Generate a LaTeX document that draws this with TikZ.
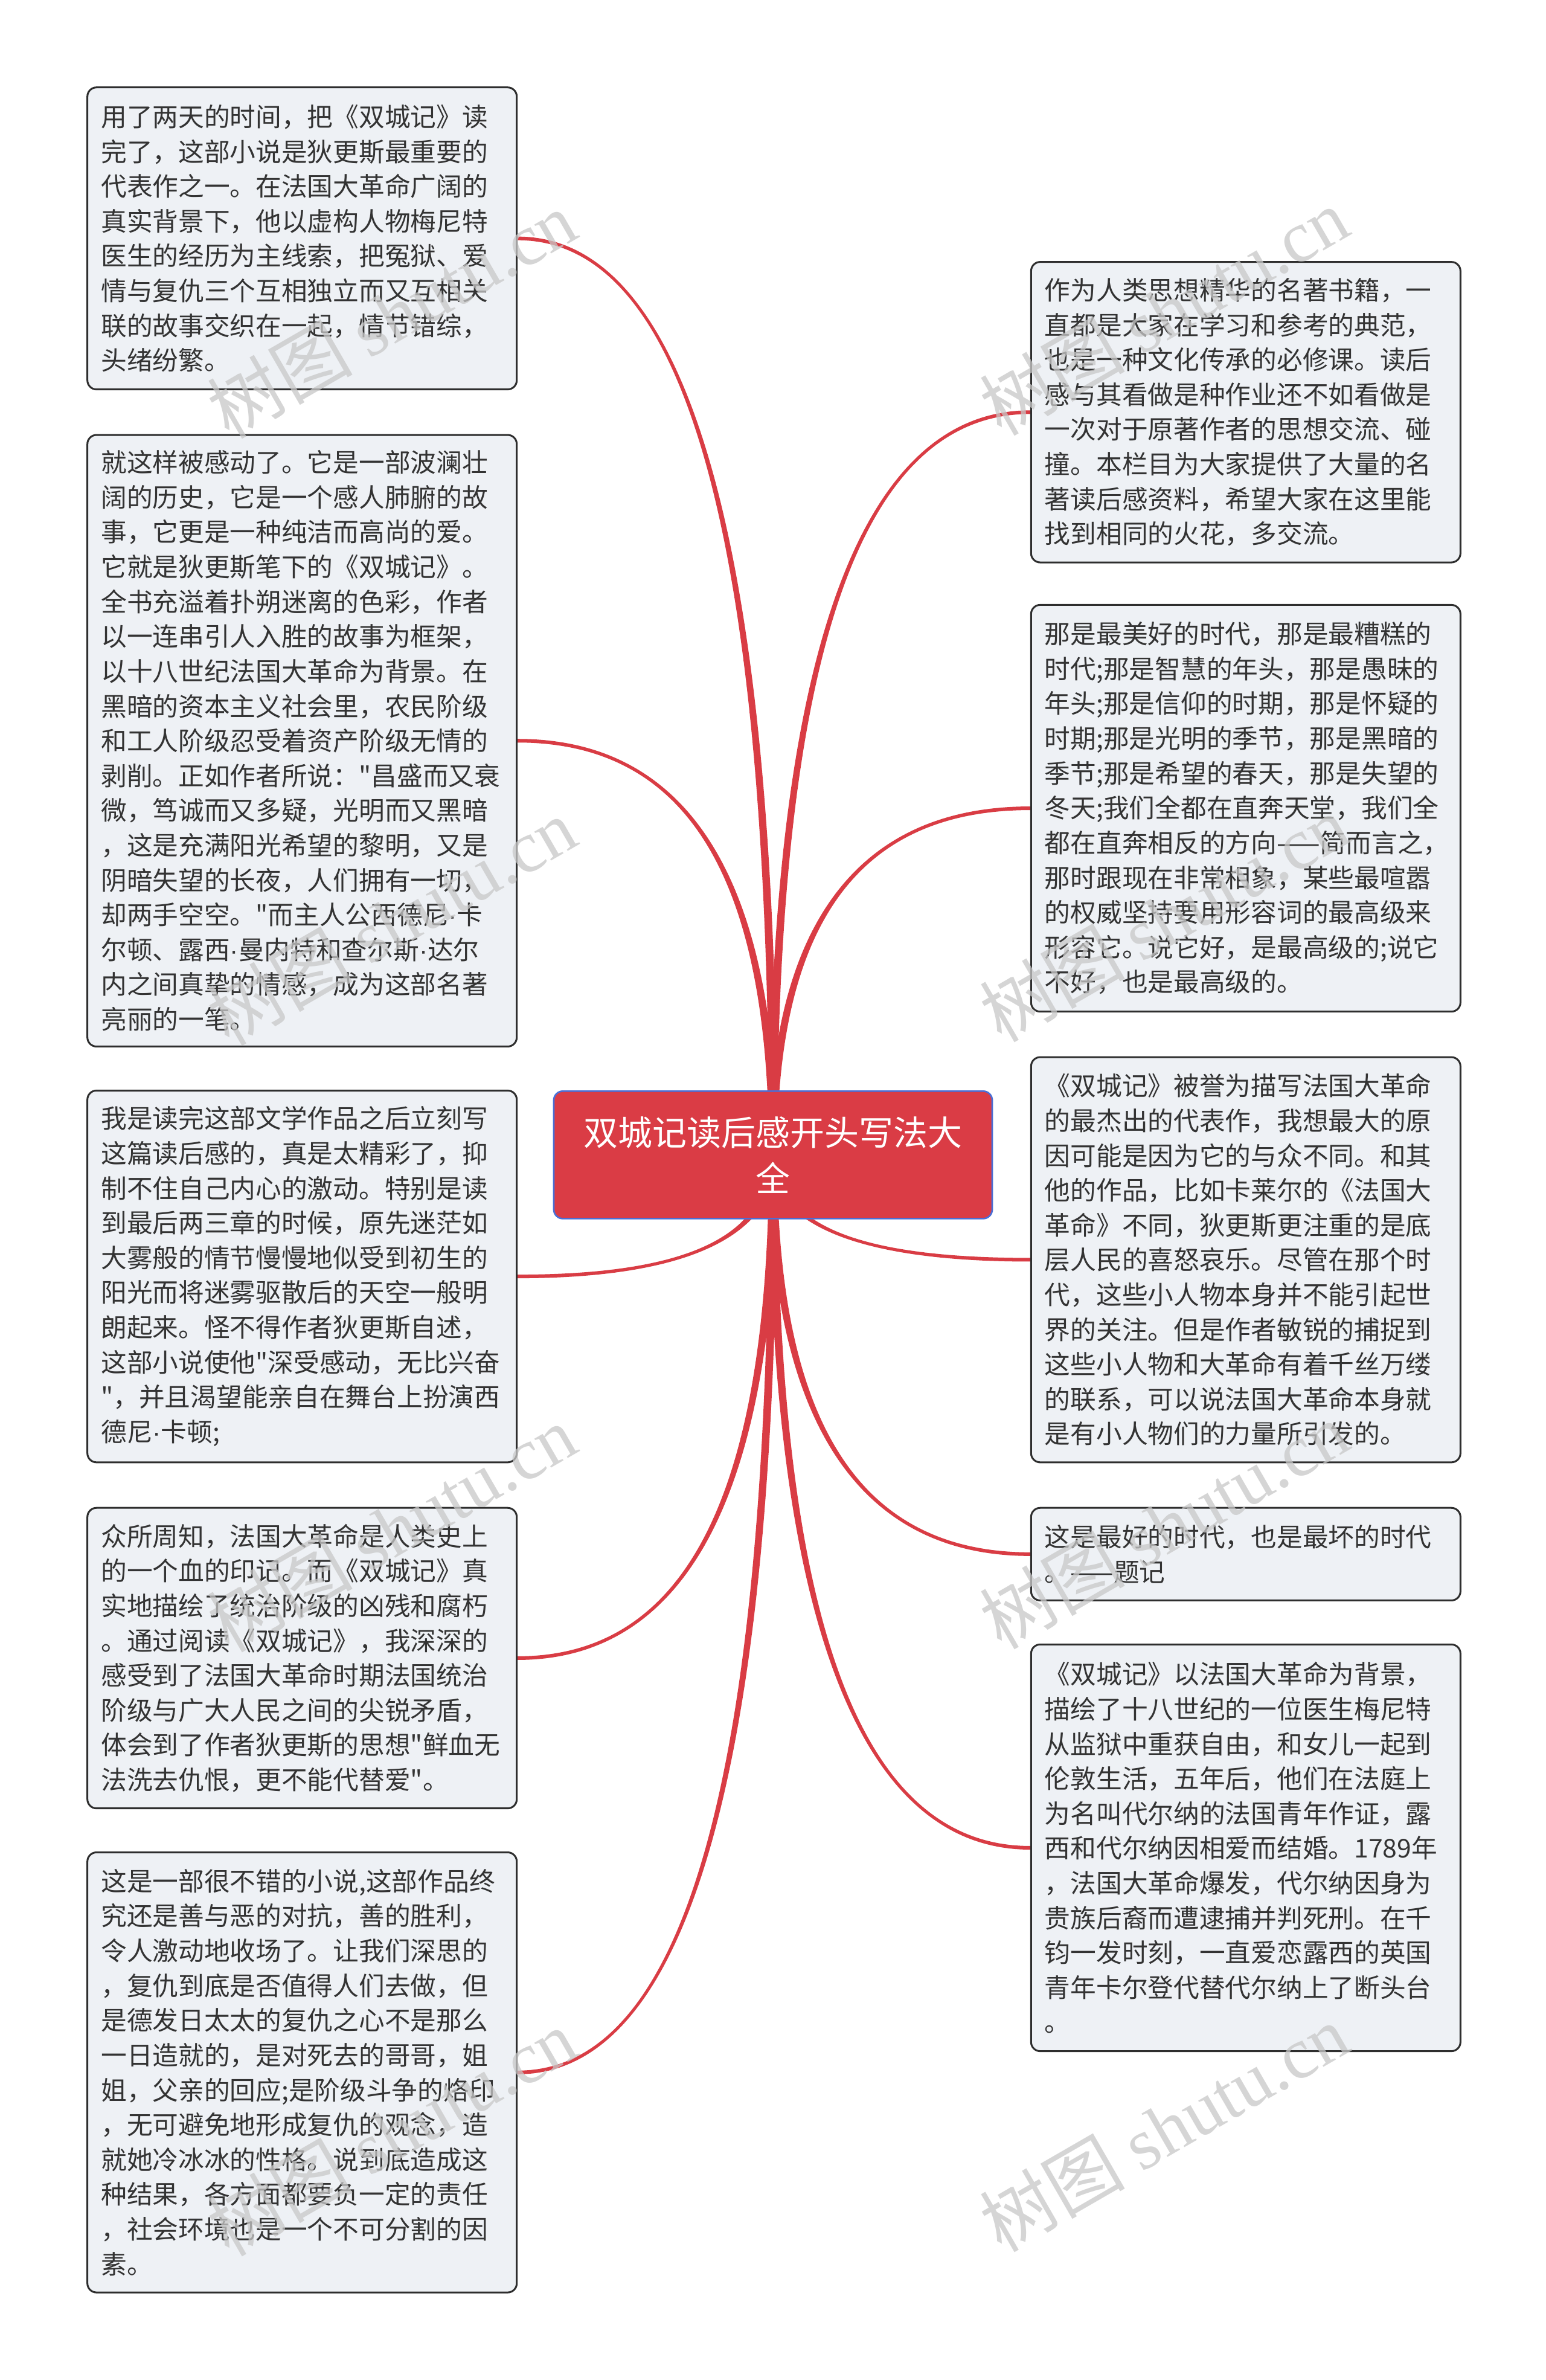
\documentclass[tikz,border=0pt]{standalone}
\usepackage{fontspec}
\setmainfont{Noto Sans CJK SC}
\newfontfamily\cjk{Noto Sans CJK SC}
\newfontfamily\wmserif{Liberation Serif}
\newfontfamily\latinsans{Liberation Sans}
\newcommand\md{{\latinsans ·}}
\usetikzlibrary{calc}
\pgfdeclarelayer{background}
\pgfdeclarelayer{foreground}
\pgfsetlayers{background,main,foreground}
\definecolor{branchred}{HTML}{D93C44}
\definecolor{rootfill}{HTML}{DA3C45}
\definecolor{rootline}{HTML}{4A6FD6}
\definecolor{leaffill}{HTML}{EEF1F5}
\definecolor{leafline}{HTML}{2E2E2E}
\definecolor{leaftext}{HTML}{333333}
\definecolor{wmgray}{HTML}{C8C8C8}
\setlength\parindent{0pt}
\newcommand\leaffont{\cjk\fontsize{12.75pt}{17.2pt}\selectfont}
\newcommand\rootfont{\cjk\fontsize{17pt}{22.5pt}\selectfont}
\tikzset{
 leaf/.style={draw=leafline, fill=leaffill, line width=0.9pt, rounded corners=4.5pt,
   text=leaftext, font=\leaffont, align=left, anchor=north west,
   inner xsep=6.75pt, inner ysep=2pt, text width=198.75pt},
 rootbox/.style={draw=rootline, fill=rootfill, line width=0.8pt, rounded corners=4.5pt,
   text=white, font=\rootfont, align=center, minimum width=216.75pt,
   minimum height=63pt, inner sep=0pt, text width=205pt},
 watermark/.style={text=wmgray, opacity=0.75, rotate=30,
   font=\cjk\fontsize{36pt}{40pt}\selectfont, inner sep=0pt},
}
% #1 start, #2 end, #3 horizontal sign, #4 vertical sign (canvas)
\newcommand\branch[4]{%
 \fill[branchred] let \p1=(#1), \p2=(#2) in
 ({\x1-(#3)*2pt},\y1) .. controls ({\x1-(#3)*2pt},{\y1+0.6667*(\y2-\y1)}) and ({\x2+0.6667*(\x1-\x2)},{\y2+(#4)*0.9pt}) .. ({\x2},{\y2+(#4)*0.9pt})
 -- ({\x2},{\y2-(#4)*0.9pt}) .. controls ({\x2+0.6667*(\x1-\x2)},{\y2-(#4)*0.9pt}) and ({\x1+(#3)*2pt},{\y1+0.6667*(\y2-\y1)}) .. ({\x1+(#3)*2pt},\y1) -- cycle;
}
\begin{document}
\begin{tikzpicture}[x=0.75pt,y=-0.75pt]
\begin{pgfonlayer}{background}
\fill[white] (0,0) rectangle (1019,1568.3);
\end{pgfonlayer}
\useasboundingbox (0,0) rectangle (1019,1568.3);

\node[rootbox] (C) at (509.5,761) {双城记读后感开头写法大\\全};

\node[leaf, minimum height=149.25pt] (L1) at (57,57) {用了两天的时间，把《双城记》读\\完了，这部小说是狄更斯最重要的\\代表作之一。在法国大革命广阔的\\真实背景下，他以虚构人物梅尼特\\医生的经历为主线索，把冤狱、爱\\情与复仇三个互相独立而又互相关\\联的故事交织在一起，情节错综，\\头绪纷繁。};

\node[leaf, minimum height=302.25pt] (L2) at (57,286) {就这样被感动了。它是一部波澜壮\\阔的历史，它是一个感人肺腑的故\\事，它更是一种纯洁而高尚的爱。\\它就是狄更斯笔下的《双城记》。\\全书充溢着扑朔迷离的色彩，作者\\以一连串引人入胜的故事为框架，\\以十八世纪法国大革命为背景。在\\黑暗的资本主义社会里，农民阶级\\和工人阶级忍受着资产阶级无情的\\剥削。正如作者所说："昌盛而又衰\\微，笃诚而又多疑，光明而又黑暗\\，这是充满阳光希望的黎明，又是\\阴暗失望的长夜，人们拥有一切，\\却两手空空。"而主人公西德尼\md 卡\\尔顿、露西\md 曼内特和查尔斯\md 达尔\\内之间真挚的情感，成为这部名著\\亮丽的一笔。};

\node[leaf, minimum height=183.75pt] (L3) at (57,718) {我是读完这部文学作品之后立刻写\\这篇读后感的，真是太精彩了，抑\\制不住自己内心的激动。特别是读\\到最后两三章的时候，原先迷茫如\\大雾般的情节慢慢地似受到初生的\\阳光而将迷雾驱散后的天空一般明\\朗起来。怪不得作者狄更斯自述，\\这部小说使他"深受感动，无比兴奋\\"，并且渴望能亲自在舞台上扮演西\\德尼\md 卡顿;};

\node[leaf, minimum height=148.5pt] (L4) at (57,993) {众所周知，法国大革命是人类史上\\的一个血的印记。而《双城记》真\\实地描绘了统治阶级的凶残和腐朽\\。通过阅读《双城记》，我深深的\\感受到了法国大革命时期法国统治\\阶级与广大人民之间的尖锐矛盾，\\体会到了作者狄更斯的思想"鲜血无\\法洗去仇恨，更不能代替爱"。};

\node[leaf, minimum height=217.5pt] (L5) at (57,1220) {这是一部很不错的小说,这部作品终\\究还是善与恶的对抗，善的胜利，\\令人激动地收场了。让我们深思的\\，复仇到底是否值得人们去做，但\\是德发日太太的复仇之心不是那么\\一日造就的，是对死去的哥哥，姐\\姐，父亲的回应;是阶级斗争的烙印\\，无可避免地形成复仇的观念，造\\就她冷冰冰的性格。说到底造成这\\种结果，各方面都要负一定的责任\\，社会环境也是一个不可分割的因\\素。};

\node[leaf, minimum height=148.5pt] (R1) at (679,172) {作为人类思想精华的名著书籍，一\\直都是大家在学习和参考的典范，\\也是一种文化传承的必修课。读后\\感与其看做是种作业还不如看做是\\一次对于原著作者的思想交流、碰\\撞。本栏目为大家提供了大量的名\\著读后感资料，希望大家在这里能\\找到相同的火花，多交流。};

\node[leaf, minimum height=201pt] (R2) at (679,398) {那是最美好的时代，那是最糟糕的\\时代;那是智慧的年头，那是愚昧的\\年头;那是信仰的时期，那是怀疑的\\时期;那是光明的季节，那是黑暗的\\季节;那是希望的春天，那是失望的\\冬天;我们全都在直奔天堂，我们全\\\mbox{都在直奔相反的方向——简而言之，}\\那时跟现在非常相象，某些最喧嚣\\的权威坚持要用形容词的最高级来\\形容它。说它好，是最高级的;说它\\不好，也是最高级的。};

\node[leaf, minimum height=200.25pt] (R3) at (679,696) {《双城记》被誉为描写法国大革命\\的最杰出的代表作，我想最大的原\\因可能是因为它的与众不同。和其\\他的作品，比如卡莱尔的《法国大\\革命》不同，狄更斯更注重的是底\\层人民的喜怒哀乐。尽管在那个时\\代，这些小人物本身并不能引起世\\界的关注。但是作者敏锐的捕捉到\\这些小人物和大革命有着千丝万缕\\的联系，可以说法国大革命本身就\\是有小人物们的力量所引发的。};

\node[leaf, minimum height=45.75pt] (R4) at (679,993) {这是最好的时代，也是最坏的时代\\\mbox{。——题记}};

\node[leaf, minimum height=201pt] (R5) at (679,1083) {《双城记》以法国大革命为背景，\\描绘了十八世纪的一位医生梅尼特\\从监狱中重获自由，和女儿一起到\\伦敦生活，五年后，他们在法庭上\\为名叫代尔纳的法国青年作证，露\\西和代尔纳因相爱而结婚。1789年\\，法国大革命爆发，代尔纳因身为\\贵族后裔而遭逮捕并判死刑。在千\\钧一发时刻，一直爱恋露西的英国\\青年卡尔登代替代尔纳上了断头台\\。};

\begin{pgfonlayer}{background}
\branch{C.center}{L1.east}{-1}{1}
\branch{C.center}{L2.east}{-1}{1}
\branch{C.center}{L3.east}{-1}{-1}
\branch{C.center}{L4.east}{-1}{-1}
\branch{C.center}{L5.east}{-1}{-1}
\branch{C.center}{R1.west}{1}{1}
\branch{C.center}{R2.west}{1}{1}
\branch{C.center}{R3.west}{1}{-1}
\branch{C.center}{R4.west}{1}{-1}
\branch{C.center}{R5.west}{1}{-1}
\end{pgfonlayer}

\begin{pgfonlayer}{foreground}
\node[watermark] (W1) at (258,207) {树图 {\wmserif shutu.cn}};
\node[watermark] (W2) at (258,607) {树图 {\wmserif shutu.cn}};
\node[watermark] (W3) at (258,1007) {树图 {\wmserif shutu.cn}};
\node[watermark] (W4) at (258,1405) {树图 {\wmserif shutu.cn}};
\node[watermark] (W5) at (767,205) {树图 {\wmserif shutu.cn}};
\node[watermark] (W6) at (767,605) {树图 {\wmserif shutu.cn}};
\node[watermark] (W7) at (767,1005) {树图 {\wmserif shutu.cn}};
\node[watermark] (W8) at (767,1402) {树图 {\wmserif shutu.cn}};
\end{pgfonlayer}
\end{tikzpicture}
\end{document}
